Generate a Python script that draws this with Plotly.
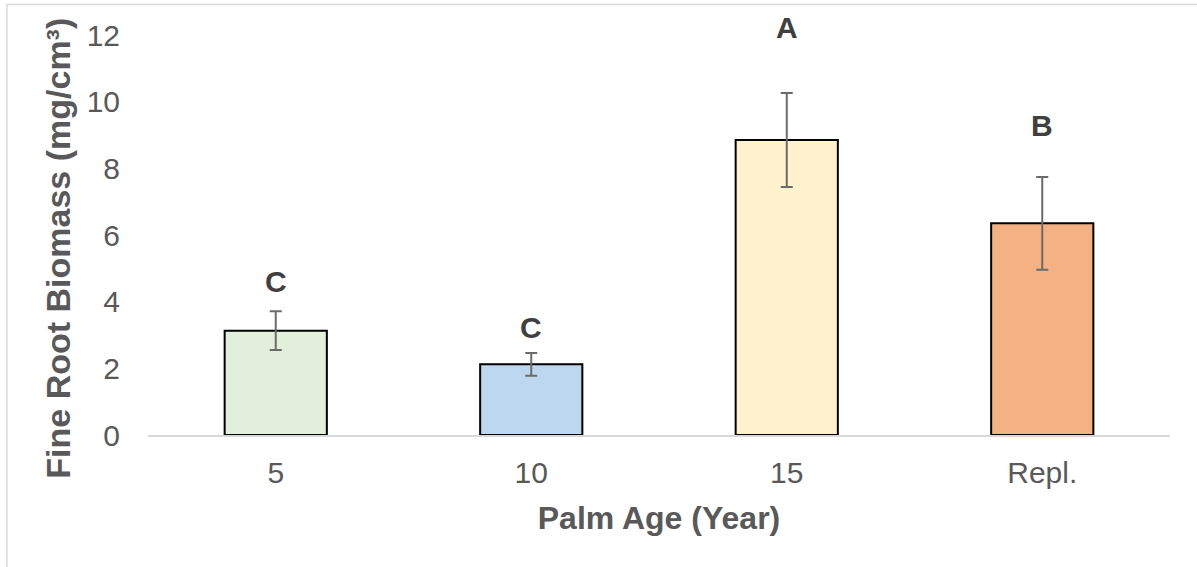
import plotly.graph_objects as go

categories = ["5", "10", "15", "Repl."]
biomass = [3.13, 2.12, 8.85, 6.35]
errors = [0.58, 0.34, 1.41, 1.39]
letters = ["C", "C", "A", "B"]
letter_y = [4.62, 3.23, 12.21, 9.29]
colors = ["#E2EFDA", "#BDD7EE", "#FFF2CC", "#F4B183"]
y_ticks = [0, 2, 4, 6, 8, 10, 12]
y_max = 12

FONT = "Arial, Liberation Sans, sans-serif"

fig = go.Figure()
fig.add_trace(go.Bar(
    x=categories, y=biomass,
    marker=dict(color=colors, line=dict(color="#000000", width=2)),
    error_y=dict(type="data", array=errors, visible=True,
                 color="#6b6b6b", thickness=2, width=6),
    showlegend=False, hoverinfo="skip",
))

# significance letters at category index positions (paper y so the top one is not hidden)
for i, (t, yv) in enumerate(zip(letters, letter_y)):
    fig.add_annotation(x=i, y=yv / y_max, text="<b>%s</b>" % t, showarrow=False,
                       font=dict(family=FONT, size=30, color="#404040"),
                       xref="x", yref="paper", yanchor="middle")

# y-axis title as rotated annotation
fig.add_annotation(x=-0.088, y=0.466, xref="paper", yref="paper",
                   text="<b>Fine Root Biomass (mg/cm³)</b>", textangle=-90,
                   showarrow=False, xanchor="center", yanchor="middle",
                   font=dict(family=FONT, size=34, color="#595959"))

fig.add_shape(type="rect", xref="paper", yref="paper",
              x0=-0.138, x1=1.05, y0=-0.36, y1=1.076,
              line=dict(color="#d9d9d9", width=1.5), layer="below")

fig.update_layout(
    width=1197, height=567,
    margin=dict(l=148, r=27, t=35, b=132),
    paper_bgcolor="white", plot_bgcolor="white",
    bargap=0.6,
    font=dict(family=FONT, color="#595959"),
    xaxis=dict(
        type="category", categoryorder="array", categoryarray=categories,
        range=[-0.5, len(categories) - 0.5],
        showline=True, linecolor="#d9d9d9", linewidth=2,
        showgrid=False, ticks="", ticklabelstandoff=10,
        tickfont=dict(size=30, color="#595959"),
        title=dict(text="<b>Palm Age (Year)</b>", standoff=19,
                   font=dict(size=32, color="#595959")),
    ),
    yaxis=dict(
        range=[0, y_max], tickvals=y_ticks, showgrid=False, zeroline=False,
        showline=False, ticks="", ticklabelstandoff=27,
        tickfont=dict(size=30, color="#595959"),
    ),
)

fig.write_html("out.html", config={"displayModeBar": False},
               post_script="document.body.style.margin='0px';")
